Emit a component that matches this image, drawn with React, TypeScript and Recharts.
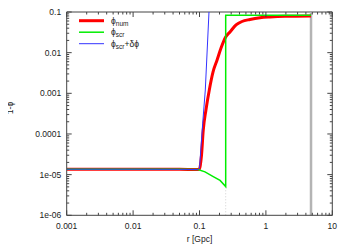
import { LineChart, Line, XAxis, YAxis, ReferenceLine, Legend } from "recharts";

// axis ticks
const X_MAJOR = [0.001, 0.01, 0.1, 1, 10];
const X_LABELS = ["0.001", "0.01", "0.1", "1", "10"];
const Y_MAJOR = [1e-6, 1e-5, 1e-4, 1e-3, 0.01, 0.1];
const Y_LABELS = ["1e-06", "1e-05", "0.0001", "0.001", "0.01", "0.1"];

// phi_num (numerical solution)
const numR = [0.001, 0.01, 0.05, 0.095, 0.1, 0.107, 0.114, 0.125, 0.1405, 0.16, 0.184, 0.211, 0.248, 0.288, 0.355, 0.436, 0.576, 0.815, 1.15, 1.94, 4.78];
const numV = [1.36e-5, 1.36e-5, 1.35e-5, 1.33e-5, 1.4e-5, 2.9e-5, 1.26e-4, 3.9e-4, 1.21e-3, 3.36e-3, 6.6e-3, 0.013, 0.0243, 0.0323, 0.048, 0.0584, 0.0654, 0.072, 0.0754, 0.0784, 0.0798];

// phi_scr (screened approximation)
const scrR = [0.001, 0.01, 0.05, 0.095, 0.121, 0.161, 0.204, 0.248, 0.248, 4.78];
const scrV = [1.36e-5, 1.36e-5, 1.35e-5, 1.33e-5, 1.17e-5, 8.98e-6, 7.2e-6, 5.1e-6, 0.083, 0.083];

// phi_scr + delta phi
const corrR = [0.001, 0.01, 0.05, 0.095, 0.1, 0.1117, 0.1223, 0.139];
const corrV = [1.36e-5, 1.36e-5, 1.35e-5, 1.33e-5, 1.45e-5, 1.84e-4, 1.21e-3, 0.1];

const toRows = (r: number[], v: number[]) => r.map((x, i) => ({ r: x, v: v[i] }));
const numData = toRows(numR, numV);
const scrData = toRows(scrR, scrV);
const corrData = toRows(corrR, corrV);

const minors = (majors: number[]) =>
  majors.slice(0, -1).flatMap((m) => [2, 3, 4, 5, 6, 7, 8, 9].map((k) => +(m * k).toPrecision(3)));
const xTicks = [...X_MAJOR, ...minors(X_MAJOR)].sort((a, b) => a - b);
const yTicks = [...Y_MAJOR, ...minors(Y_MAJOR)].sort((a, b) => a - b);

const W = 349;
const H = 245;
const TOP = 12;
const LEFT = 66.7;
const RIGHT = 332.3;
const BOTTOM = 215.3;
const FONT = "'Liberation Sans', Arial, sans-serif";
const AXIS = "#444";

const majorIndex = (majors: number[], v: number) =>
  majors.findIndex((m) => Math.abs(Math.log10(m) - Math.log10(v)) < 1e-6);

function XTick({ x, y, payload }: any) {
  const i = majorIndex(X_MAJOR, payload.value);
  const len = i >= 0 ? 5 : 2.5;
  return (
    <g>
      <line x1={x} x2={x} y1={y} y2={y - len} stroke={AXIS} />
      <line x1={x} x2={x} y1={TOP} y2={TOP + len} stroke={AXIS} />
      {i >= 0 && (
        <text x={x} y={y + 13.5} textAnchor="middle" fontSize={8.5} fontFamily={FONT} fill="#222">
          {X_LABELS[i]}
        </text>
      )}
    </g>
  );
}

function YTick({ x, y, payload }: any) {
  const i = majorIndex(Y_MAJOR, payload.value);
  const len = i >= 0 ? 5 : 2.5;
  return (
    <g>
      <line x1={x} x2={x + len} y1={y} y2={y} stroke={AXIS} />
      <line x1={RIGHT} x2={RIGHT - len} y1={y} y2={y} stroke={AXIS} />
      {i >= 0 && (
        <text x={x - 5.5} y={y} dy="0.35em" textAnchor="end" fontSize={8.5} fontFamily={FONT} fill="#222">
          {Y_LABELS[i]}
        </text>
      )}
    </g>
  );
}

function YLabel() {
  return (
    <text x={13} y={108} transform="rotate(-90 13 108)" textAnchor="middle" fontSize={8.5} fontFamily={FONT} fill="#222">
      1-ϕ
    </text>
  );
}

const legendItems = [
  { sub: "num", extra: "", color: "#ff0000", width: 3 },
  { sub: "scr", extra: "", color: "#00ee00", width: 1.5 },
  { sub: "scr", extra: "+δϕ", color: "#3333ff", width: 1 },
];

function LegendBox() {
  return (
    <svg width={90} height={36} style={{ display: "block", overflow: "visible" }}>
      {legendItems.map((it, i) => {
        const y = 5.7 + i * 11.5;
        return (
          <g key={i}>
            <line x1={0} x2={25} y1={y} y2={y} stroke={it.color} strokeWidth={it.width} />
            <text x={32} y={y + 3} fontSize={8.5} fontFamily={FONT} fill="#222">
              ϕ
              <tspan dy={2} fontSize={6.5}>{it.sub}</tspan>
              {it.extra && <tspan dy={-2} fontSize={8.5}>{it.extra}</tspan>}
            </text>
          </g>
        );
      })}
    </svg>
  );
}

export default function App() {
  return (
    <div style={{ marginLeft: -8, marginTop: -8, width: W, height: H }}>
      <LineChart width={W} height={H} margin={{ top: TOP, right: W - RIGHT, left: 0, bottom: 0 }}>
        <XAxis
          dataKey="r"
          type="number"
          scale="log"
          domain={[0.001, 10]}
          ticks={xTicks}
          interval={0}
          allowDataOverflow
          tickSize={0}
          tickMargin={0}
          tickLine={false}
          height={H - BOTTOM}
          stroke={AXIS}
          tick={<XTick />}
          label={{ value: "r [Gpc]", position: "insideBottom", offset: 3, fontSize: 8.5, fontFamily: FONT, fill: "#222" }}
        />
        <YAxis
          dataKey="v"
          type="number"
          scale="log"
          domain={[1e-6, 0.1]}
          ticks={yTicks}
          interval={0}
          allowDataOverflow
          tickSize={0}
          tickMargin={0}
          tickLine={false}
          width={LEFT}
          stroke={AXIS}
          tick={<YTick />}
          label={{ content: YLabel }}
        />
        <ReferenceLine y={0.1} stroke={AXIS} />
        <ReferenceLine x={10} stroke={AXIS} />
        <ReferenceLine x={4.78} stroke="#b4b4b4" strokeWidth={2.5} />
        <ReferenceLine
          segment={[{ x: 0.248, y: 1e-6 }, { x: 0.248, y: 5.1e-6 }]}
          stroke="#d0d0d0"
          strokeDasharray="1 2"
        />
        <Line data={numData} dataKey="v" type="monotone" stroke="#ff0000" strokeWidth={3} dot={false} activeDot={false} isAnimationActive={false} />
        <Line data={scrData} dataKey="v" type="linear" stroke="#00ee00" strokeWidth={1.5} dot={false} activeDot={false} isAnimationActive={false} />
        <Line data={corrData} dataKey="v" type="linear" stroke="#3333ff" strokeWidth={1} dot={false} activeDot={false} isAnimationActive={false} />
        <Legend
          layout="vertical"
          align="center"
          verticalAlign="middle"
          content={<LegendBox />}
          wrapperStyle={{ position: "absolute", top: 15, left: 79, width: "auto" }}
        />
      </LineChart>
    </div>
  );
}
